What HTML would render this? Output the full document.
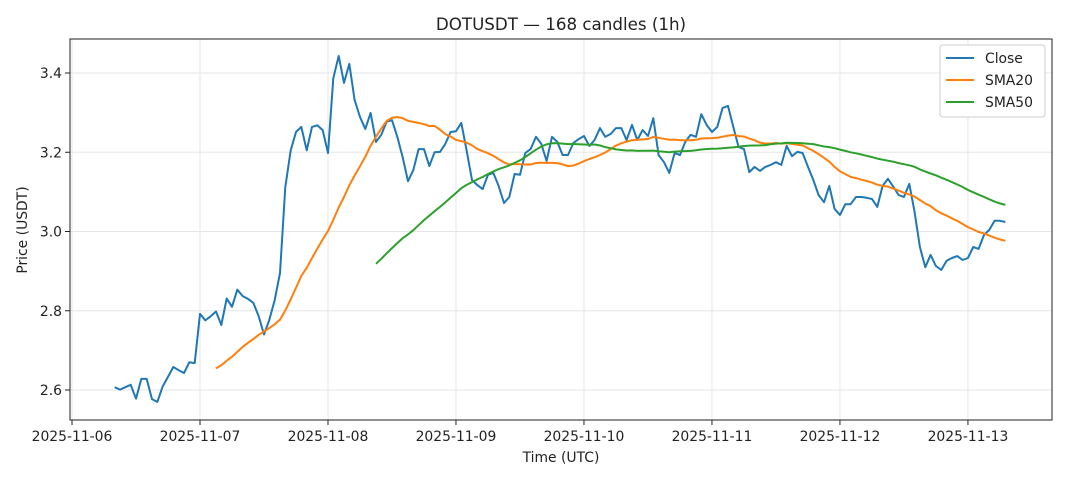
<!DOCTYPE html>
<html><head><meta charset="utf-8"><style>
body{margin:0;background:#fff;font-family:"DejaVu Sans",sans-serif}
svg text{font-family:"DejaVu Sans",sans-serif;fill:#222}
</style></head><body>
<svg id="c" width="1068" height="481" xmlns="http://www.w3.org/2000/svg"></svg>
<script>
const closeVals=[2.607,2.601,2.607,2.613,2.578,2.628,2.628,2.577,2.570,2.609,2.633,2.658,2.650,2.643,2.670,2.668,2.792,2.776,2.786,2.798,2.764,2.831,2.810,2.853,2.837,2.830,2.820,2.786,2.740,2.777,2.827,2.895,3.112,3.205,3.251,3.264,3.205,3.264,3.268,3.256,3.198,3.387,
3.443,3.375,3.423,3.332,3.289,3.259,3.299,3.226,3.244,3.277,3.281,3.239,3.188,3.127,3.155,3.208,3.208,3.165,3.200,3.201,3.221,3.251,3.253,3.274,3.205,3.130,3.117,3.107,3.143,3.148,3.115,3.072,3.087,3.145,3.143,3.198,3.208,3.239,3.221,3.178,3.239,3.226,3.193,3.193,
3.223,3.233,3.241,3.216,3.231,3.261,3.239,3.246,3.261,3.261,3.231,3.269,3.231,3.256,3.241,3.286,3.193,3.175,3.148,3.198,3.193,3.226,3.244,3.239,3.296,3.269,3.251,3.264,3.312,3.317,3.264,3.213,3.208,3.150,3.163,3.153,3.163,3.168,3.175,3.168,3.216,3.190,3.201,
3.198,3.163,3.130,3.092,3.074,3.115,3.057,3.042,3.069,3.069,3.087,3.087,3.085,3.082,3.062,3.115,3.133,3.113,3.092,3.087,3.120,3.049,2.961,2.910,2.941,2.913,2.903,2.926,2.933,2.938,2.928,2.933,2.961,2.956,2.991,3.004,3.027,3.027,3.024];
const startHour=8;
const yTicks=[2.6,2.8,3.0,3.2,3.4];
const xTickLabels=["2025-11-06","2025-11-07","2025-11-08","2025-11-09","2025-11-10","2025-11-11","2025-11-12","2025-11-13"];
const L=70,R=1052,T=39,B=420;
const xs=h=>72+h*5.333;
const ys=v=>73+(3.4-v)/0.2*79.25;
const svg=document.getElementById('c');
const NS="http://www.w3.org/2000/svg";
function mk(t,a,p){const e=document.createElementNS(NS,t);for(const k in a)e.setAttribute(k,a[k]);(p||svg).appendChild(e);return e;}
yTicks.forEach(v=>{const l=mk('line',{x1:L,x2:R,y1:ys(v),y2:ys(v),stroke:'#e6e6e6','stroke-width':1});

});
xTickLabels.forEach((s,i)=>{const x=xs(i*24);const l=mk('line',{x1:x,x2:x,y1:T,y2:B,stroke:'#e6e6e6','stroke-width':1});

});
yTicks.forEach(v=>{mk('line',{x1:L-5,x2:L,y1:ys(v),y2:ys(v),stroke:'#222'});
const t=mk('text',{x:L-8,y:ys(v)+5,'text-anchor':'end','font-size':13.9});t.textContent=v.toFixed(1);

});
xTickLabels.forEach((s,i)=>{const x=xs(i*24);mk('line',{x1:x,x2:x,y1:B,y2:B+5,stroke:'#222'});
const t=mk('text',{x:x,y:B+21,'text-anchor':'middle','font-size':13.9});t.textContent=s;

});
function sma(n){return closeVals.map((v,i)=>{if(i<n-1)return null;let s=0;for(let j=i-n+1;j<=i;j++)s+=closeVals[j];return s/n;});}
function line(arr,color,name){let d='';arr.forEach((v,i)=>{if(v==null)return;d+=(d?'L':'M')+xs(startHour+i).toFixed(1)+','+ys(v).toFixed(1);});
const p=mk('path',{d:d,fill:'none',stroke:color,'stroke-width':2,'stroke-linejoin':'round'});

}
line(closeVals,'#1f77b4','close-line');
line(sma(20),'#ff7f0e','sma20-line');
line(sma(50),'#2ca02c','sma50-line');
const fr=mk('rect',{x:L,y:T,width:R-L,height:B-T,fill:'none',stroke:'#222','stroke-width':1});


const title=mk('text',{x:561,y:30,'text-anchor':'middle','font-size':16.7});title.textContent='DOTUSDT — 168 candles (1h)';


const xt=mk('text',{x:561,y:462,'text-anchor':'middle','font-size':13.9});xt.textContent='Time (UTC)';


const yt=mk('text',{x:27,y:230,'text-anchor':'middle','font-size':13.9,transform:'rotate(-90 27 230)'});yt.textContent='Price (USDT)';


const lg=mk('g',{});


mk('rect',{x:940,y:45,width:105,height:72,rx:3,fill:'#fff',stroke:'#ccc'},lg);
[['Close','#1f77b4'],['SMA20','#ff7f0e'],['SMA50','#2ca02c']].forEach((e,i)=>{const y=58+i*22;
const g=mk('g',{},lg);


mk('line',{x1:946,x2:974,y1:y,y2:y,stroke:e[1],'stroke-width':2},g);
const t=mk('text',{x:985,y:y+5,'font-size':13.9},g);t.textContent=e[0];});
</script>
</body></html>
